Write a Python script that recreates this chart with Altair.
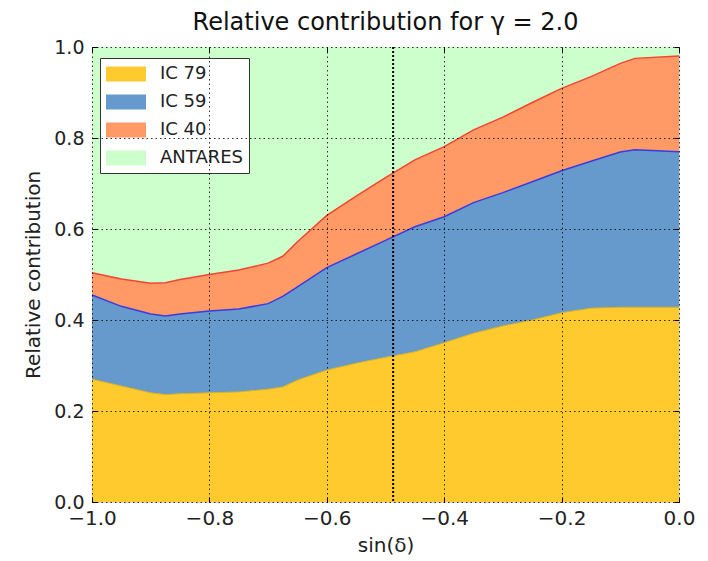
import altair as alt
import pandas as pd

# sin(declination) sample points
sin_dec = [-1.0, -0.95, -0.9, -0.875, -0.85, -0.8, -0.75, -0.7, -0.675, -0.65,
           -0.6, -0.55, -0.5, -0.45, -0.4, -0.35, -0.3, -0.25, -0.2, -0.15,
           -0.1, -0.075, 0.0]
# cumulative upper boundaries of each band
ic79_top = [0.270, 0.255, 0.240, 0.236, 0.238, 0.240, 0.242, 0.248, 0.253, 0.268,
            0.290, 0.305, 0.318, 0.330, 0.350, 0.371, 0.387, 0.400, 0.416, 0.426,
            0.428, 0.428, 0.428]
ic59_top = [0.455, 0.430, 0.413, 0.409, 0.413, 0.420, 0.424, 0.436, 0.452, 0.473,
            0.515, 0.545, 0.575, 0.605, 0.627, 0.658, 0.680, 0.704, 0.728, 0.749,
            0.769, 0.774, 0.770]
ic40_top = [0.504, 0.490, 0.481, 0.482, 0.489, 0.500, 0.510, 0.525, 0.540, 0.572,
            0.630, 0.672, 0.713, 0.752, 0.781, 0.818, 0.846, 0.878, 0.909, 0.935,
            0.964, 0.975, 0.980]
antares_top = [1.0, 1.0, 1.0, 1.0, 1.0, 1.0, 1.0, 1.0, 1.0, 1.0,
               1.0, 1.0, 1.0, 1.0, 1.0, 1.0, 1.0, 1.0, 1.0, 1.0,
               1.0, 1.0, 1.0]
zero_line = [0.0] * len(sin_dec)

series_names = ["IC 79", "IC 59", "IC 40", "ANTARES"]
series_colors = ["#FECA2E", "#6699CC", "#FF9966", "#CCFFCC"]
marker_x = [-0.487]
tick_vals = [-1.0, -0.8, -0.6, -0.4, -0.2, 0.0]
ytick_vals = [0.0, 0.2, 0.4, 0.6, 0.8, 1.0]

bounds = [zero_line, ic79_top, ic59_top, ic40_top, antares_top]
rows = []
for k, name in enumerate(series_names):
    for i, x in enumerate(sin_dec):
        rows.append({"x": x, "lo": bounds[k][i], "hi": bounds[k + 1][i], "series": name})
df = pd.DataFrame(rows)
lines_df = pd.DataFrame({"x": sin_dec, "b59": ic59_top, "b40": ic40_top, "b79": ic79_top})
rule_df = pd.DataFrame({"x": marker_x})

W, H = 587, 455
FONT = "DejaVu Sans"
TXT = "#222222"
xscale = alt.Scale(domain=[-1.0, 0.0], nice=False, zero=False)
yscale = alt.Scale(domain=[0.0, 1.0], nice=False)

def tick_axis(orient, offset, vals):
    return alt.Axis(orient=orient, offset=offset, values=vals, labels=False, domain=False,
                    grid=False, ticks=True, tickSize=5, tickColor="#000000", tickWidth=1,
                    title=None, zindex=2)

areas = alt.Chart(df).mark_area(opacity=1, interpolate="linear").encode(
    x=alt.X("x:Q", scale=xscale,
            axis=alt.Axis(orient="bottom", values=tick_vals, format=".1f", title="sin(δ)",
                          grid=True, gridColor="#000000", gridDash=[1.5, 3], gridOpacity=0.8,
                          ticks=False, domain=False, labelPadding=6, labelFontSize=20,
                          labelFlush=False, labelOverlap=False,
                          labelFont=FONT, labelColor=TXT, titleFont=FONT,
                          titleFontSize=20, titleFontWeight="normal", titleColor=TXT,
                          titlePadding=7, zindex=1)),
    y=alt.Y("lo:Q", scale=yscale,
            axis=alt.Axis(orient="left", values=ytick_vals, format=".1f",
                          title="Relative contribution",
                          grid=True, gridColor="#000000", gridDash=[1.5, 3], gridOpacity=0.8,
                          ticks=False, domain=False, labelPadding=8, labelFontSize=19,
                          labelFlush=False, labelOverlap=False,
                          labelFont=FONT, labelColor=TXT, titleFont=FONT,
                          titleFontSize=20, titleFontWeight="normal", titleColor=TXT,
                          titlePadding=10, zindex=1)),
    y2="hi:Q",
    color=alt.Color("series:N",
                    scale=alt.Scale(domain=series_names, range=series_colors),
                    legend=alt.Legend(orient="none", legendX=8, legendY=11, title=None,
                                      symbolType="M-1,-0.75L3,-0.75L3,0.75L-1,0.75Z",
                                      symbolSize=400, symbolStrokeWidth=0, symbolOpacity=1,
                                      labelOffset=34, labelFontSize=18, labelFont=FONT,
                                      labelColor=TXT, rowPadding=9, padding=6,
                                      fillColor="#FFFFFF", strokeColor="#333333",
                                      labelLimit=200)),
    order=alt.Order("series:N"),
)

line79 = alt.Chart(lines_df).mark_line(color="#D9B020", strokeWidth=1).encode(
    x=alt.X("x:Q", scale=xscale, axis=None),
    y=alt.Y("b79:Q", scale=yscale, axis=None),
)
line59 = alt.Chart(lines_df).mark_line(color="#3B3BE0", strokeWidth=1.5).encode(
    x=alt.X("x:Q", scale=xscale, axis=tick_axis("top", -H, tick_vals)),
    y=alt.Y("b59:Q", scale=yscale, axis=tick_axis("right", -W, ytick_vals)),
)
line40 = alt.Chart(lines_df).mark_line(color="#F04530", strokeWidth=1.5).encode(
    x=alt.X("x:Q", scale=xscale, axis=tick_axis("bottom", -H, tick_vals)),
    y=alt.Y("b40:Q", scale=yscale, axis=tick_axis("left", -W, ytick_vals)),
)
vrule = alt.Chart(rule_df).mark_rule(color="#000000", strokeWidth=2, strokeDash=[2, 2]).encode(
    x=alt.X("x:Q", scale=xscale, axis=None),
)

chart = alt.layer(areas, line79, line59, line40, vrule).resolve_axis(
    x="independent", y="independent"
).resolve_scale(x="shared", y="shared").properties(
    width=W, height=H,
    title=alt.TitleParams("Relative contribution for γ = 2.0", font=FONT, fontSize=24,
                          fontWeight="normal", color="#111111", anchor="middle",
                          offset=3),
    autosize=alt.AutoSizeParams(type="none"),
    padding={"left": 92, "top": 47, "right": 29, "bottom": 59},
).configure_view(stroke="#111111", strokeWidth=1.2).configure(background="#FFFFFF")

chart.save("out.html", embed_options={"renderer": "svg", "actions": False})
